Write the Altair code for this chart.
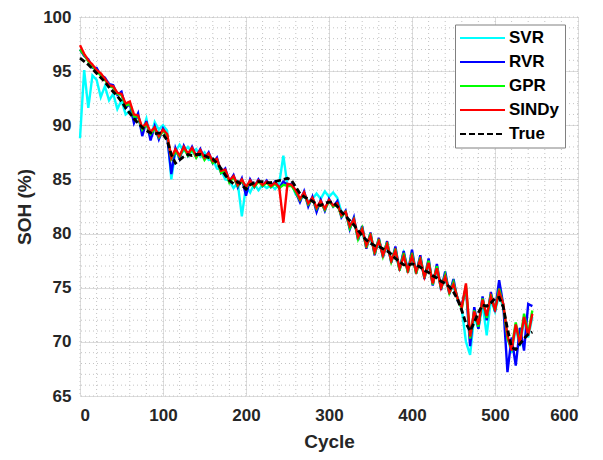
import altair as alt
import pandas as pd

# cycle grid (every 5 cycles)
cycles = list(range(0, 550, 5))

true_soh = [
    96.2, 95.9, 95.6, 95.2, 94.8, 94.4, 94.0, 93.5, 93.1, 92.7,
    92.2, 91.6, 91.1, 90.6, 90.2, 89.8, 89.5, 89.3, 89.2, 89.3,
    89.2, 88.6, 87.3, 86.5, 86.8, 87.1, 87.3, 87.2, 87.3, 87.3,
    87.2, 87.0, 86.9, 86.5, 86.0, 85.4, 84.9, 84.6, 84.8, 84.5,
    84.1, 84.5, 84.7, 84.8, 84.8, 84.7, 84.7, 84.8, 84.9, 85.0,
    85.1, 84.9, 84.3, 83.7, 83.4, 83.2, 83.0, 82.7, 82.6, 82.8,
    82.9, 82.9, 82.5, 82.0, 81.6, 81.2, 80.8, 80.3, 79.8, 79.4,
    79.1, 78.9, 78.8, 78.6, 78.4, 78.1, 77.7, 77.4, 77.1, 77.1,
    77.2, 77.1, 76.9, 76.6, 76.4, 76.1, 75.9, 75.6, 75.4, 75.1,
    74.6, 73.9, 72.9, 71.7, 71.0, 71.8, 72.7, 73.4, 73.3, 73.6,
    74.0, 74.1, 73.2, 71.2, 69.5, 69.3, 69.8, 70.3, 70.7, 70.9,
]

sindy = [
    97.4, 96.6, 96.0, 95.6, 95.1, 94.8, 94.3, 93.7, 93.6, 93.0,
    92.9, 92.0, 92.2, 91.0, 90.9, 89.8, 90.2, 89.4, 89.8, 89.0,
    89.6, 89.2, 87.0, 87.8, 87.2, 88.0, 87.4, 87.9, 87.2, 87.7,
    87.0, 87.4, 86.7, 86.9, 85.8, 85.9, 84.9, 85.3, 84.5, 85.0,
    84.3, 84.9, 84.4, 84.9, 84.5, 84.8, 84.4, 84.7, 84.3, 81.0,
    84.6, 84.5, 84.0, 83.2, 83.8, 82.8, 83.3, 82.4, 83.0, 82.3,
    83.1, 82.6, 82.8, 81.7, 82.0, 80.7, 81.3, 79.7, 80.4, 78.9,
    79.8, 78.3, 79.3, 78.0, 79.0, 77.5, 78.4, 76.8, 77.9, 76.6,
    77.9, 76.5, 77.6, 76.0, 77.3, 75.4, 76.8, 75.0, 76.0, 74.6,
    75.3, 74.0, 73.2, 75.4, 70.5, 72.8, 71.6, 73.9, 72.4, 74.2,
    73.0, 74.6, 73.5, 70.6, 69.2, 71.6, 69.8, 72.3, 70.6, 72.6,
]

rvr = [
    97.0, 96.4, 96.1, 95.3, 95.3, 94.6, 94.4, 93.8, 93.7, 92.8,
    93.1, 91.6, 92.0, 90.2, 91.1, 89.0, 90.4, 88.6, 89.9, 88.7,
    89.7, 89.0, 85.5, 87.9, 86.9, 88.1, 87.2, 88.0, 87.1, 87.8,
    86.9, 87.5, 86.5, 87.0, 85.6, 86.0, 84.8, 85.4, 84.3, 85.1,
    83.5, 85.0, 84.3, 85.0, 84.4, 84.9, 84.3, 84.8, 84.2, 84.8,
    84.5, 84.6, 83.8, 82.9, 83.9, 82.5, 83.4, 82.0, 83.1, 82.1,
    83.2, 82.5, 83.0, 81.5, 82.1, 80.4, 81.5, 79.4, 80.7, 78.6,
    80.1, 78.0, 79.6, 77.8, 79.3, 77.3, 78.8, 76.6, 78.4, 76.4,
    78.5, 76.3, 78.0, 75.8, 77.7, 75.2, 77.2, 74.8, 76.5, 74.4,
    75.8, 73.8, 73.4, 75.0, 69.6, 73.2, 71.2, 74.2, 72.0, 74.6,
    72.8, 75.7, 73.4, 67.2, 70.4, 67.8, 71.3, 69.2, 73.5, 73.3,
]

gpr = [
    97.0, 96.5, 95.9, 95.4, 95.0, 94.6, 94.2, 93.6, 93.5, 92.9,
    92.8, 91.8, 92.0, 90.8, 90.8, 89.6, 90.1, 89.2, 89.7, 88.9,
    89.5, 89.1, 86.9, 87.6, 87.1, 87.9, 87.2, 87.8, 87.0, 87.6,
    86.8, 87.3, 86.5, 86.8, 85.6, 85.8, 84.7, 85.2, 84.4, 84.9,
    84.2, 84.8, 84.3, 84.8, 84.4, 84.7, 84.3, 84.6, 84.2, 84.5,
    84.4, 84.4, 83.8, 83.1, 83.7, 82.7, 83.2, 82.3, 82.9, 82.2,
    83.0, 82.5, 82.7, 81.6, 82.0, 80.5, 81.3, 79.5, 80.5, 78.7,
    80.0, 78.1, 79.5, 77.9, 79.2, 77.4, 78.6, 76.6, 78.2, 76.4,
    78.2, 76.3, 77.8, 75.9, 77.5, 75.3, 77.0, 74.9, 76.2, 74.5,
    75.5, 73.9, 73.1, 75.2, 70.3, 72.9, 71.4, 74.0, 72.2, 74.4,
    72.9, 74.9, 73.4, 70.3, 69.4, 71.8, 69.9, 72.6, 70.8, 72.9,
]

svr = [
    88.8, 95.1, 91.6, 94.6, 94.2, 92.6, 93.6, 92.3, 92.9, 91.5,
    92.3, 91.0, 91.3, 90.6, 90.8, 89.4, 90.6, 88.8, 90.3, 89.6,
    90.0, 89.5, 85.0, 87.6, 88.2, 87.6, 88.0, 87.5, 87.8, 87.1,
    87.5, 86.8, 86.9, 86.0, 85.9, 85.0, 84.9, 84.2, 84.7, 81.6,
    84.4, 83.8, 84.6, 84.0, 84.5, 84.2, 84.5, 84.1, 84.6, 87.2,
    84.4, 84.6, 83.6, 83.3, 83.4, 83.0, 83.2, 83.7, 83.2, 83.9,
    83.4, 83.8, 83.3, 82.0, 81.8, 80.9, 81.0, 79.8, 80.0, 79.0,
    79.5, 78.4, 79.0, 78.2, 78.7, 77.6, 78.0, 76.8, 78.2, 76.8,
    77.6, 76.6, 77.2, 76.2, 77.0, 75.6, 76.4, 75.2, 75.7, 74.7,
    75.0, 74.1, 73.0, 70.0, 68.8, 72.4, 71.2, 73.5, 70.6, 73.9,
    72.8, 74.3, 73.2, 70.4, 69.0, 71.3, 69.6, 72.0, 70.4, 72.3,
]

series_names = ["SVR", "RVR", "GPR", "SINDy", "True"]
series_colors = ["#00FFFF", "#0000FF", "#00FF00", "#FF0000", "#000000"]
series_dash = [[1, 0], [1, 0], [1, 0], [1, 0], [6, 3]]
series_values = [svr, rvr, gpr, sindy, true_soh]

x_ticks = [0, 100, 200, 300, 400, 500, 600]
y_ticks = [65, 70, 75, 80, 85, 90, 95, 100]
x_minor = list(range(0, 601, 20))
y_minor = list(range(65, 101, 1))

rows = []
for name, vals in zip(series_names, series_values):
    for c, v in zip(cycles, vals):
        rows.append({"Cycle": c, "SOH": v, "Series": name})
df = pd.DataFrame(rows)

FONT = "Liberation Sans"
TXT = "#262626"

x_scale = alt.Scale(domain=[0, 600], nice=False, zero=False)
y_scale = alt.Scale(domain=[65, 100], nice=False, zero=False)

x_axis = alt.Axis(values=x_ticks, title="Cycle", labelFontSize=17, labelFontWeight="bold",
                  labelColor=TXT, labelPadding=11, ticks=False, domain=False,
                  grid=True, gridColor="#dcdcdc", gridWidth=1,
                  titleFontSize=19, titleFontWeight="bold", titleColor=TXT, titlePadding=9,
                  labelFont=FONT, titleFont=FONT)
y_axis = alt.Axis(values=y_ticks, title="SOH (%)", labelFontSize=17, labelFontWeight="bold",
                  labelColor=TXT, labelPadding=9, ticks=False, domain=False,
                  grid=True, gridColor="#dcdcdc", gridWidth=1,
                  titleFontSize=19, titleFontWeight="bold", titleColor=TXT, titlePadding=8,
                  labelFont=FONT, titleFont=FONT)

legend = alt.Legend(title=None, orient="none", legendX=375, legendY=7.5,
                    fillColor="white", strokeColor="#808080", padding=5,
                    symbolType="M-3,0L3,0", symbolSize=225, symbolStrokeWidth=2,
                    symbolOffset=14, labelOffset=18, rowPadding=6,
                    labelFontSize=17, labelFontWeight="bold", labelColor="#000000",
                    labelFont=FONT)

color = alt.Color("Series:N", scale=alt.Scale(domain=series_names, range=series_colors),
                  legend=legend)
dash = alt.StrokeDash("Series:N", scale=alt.Scale(domain=series_names, range=series_dash),
                      legend=legend)

minor_x = alt.Chart(pd.DataFrame({"Cycle": x_minor})).mark_rule(
    color="#c4c4c4", strokeWidth=1, strokeDash=[1, 3]
).encode(x=alt.X("Cycle:Q", scale=x_scale, axis=x_axis))

minor_y = alt.Chart(pd.DataFrame({"SOH": y_minor})).mark_rule(
    color="#c4c4c4", strokeWidth=1, strokeDash=[1, 3]
).encode(y=alt.Y("SOH:Q", scale=y_scale, axis=y_axis))

layers = [minor_x, minor_y]
for name in series_names:
    w = 2.8 if name == "True" else 2.4
    layers.append(
        alt.Chart(df[df["Series"] == name]).mark_line(strokeWidth=w).encode(
            x=alt.X("Cycle:Q", scale=x_scale, axis=x_axis),
            y=alt.Y("SOH:Q", scale=y_scale, axis=y_axis),
            color=color,
            strokeDash=dash,
        )
    )

chart = alt.layer(*layers).properties(
    width=498, height=379,
    autosize=alt.AutoSizeParams(type="none"),
    padding={"left": 72, "top": 9, "right": 15, "bottom": 62},
).configure_view(stroke="#404040", strokeWidth=1).configure(font=FONT)

chart.save("out.html", embed_options={"renderer": "svg", "actions": False})
